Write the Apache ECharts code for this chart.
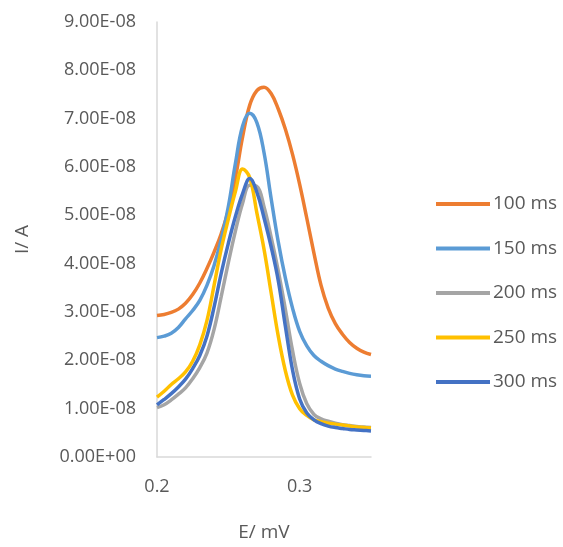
<!DOCTYPE html>
<html>
<head>
<meta charset="utf-8">
<script src="https://cdn.jsdelivr.net/npm/echarts@6/dist/echarts.min.js"></script>
<style>html,body{margin:0;padding:0;background:#fff}#c{width:563px;height:547px}</style>
</head>
<body>
<div id="c"></div>
<script>
var seriesNames = ['100 ms', '150 ms', '200 ms', '250 ms', '300 ms'];
var seriesColors = ['#ED7D31', '#5B9BD5', '#A5A5A5', '#FFC000', '#4472C4'];
var xTicks = ['0.2', '0.3'];
var yTicks = ['0.00E+00','1.00E-08','2.00E-08','3.00E-08','4.00E-08','5.00E-08','6.00E-08','7.00E-08','8.00E-08','9.00E-08'];

// E (mV) sample positions
var E = [0.200,0.205,0.210,0.215,0.220,0.225,0.230,0.235,0.240,0.245,0.250,0.255,0.260,0.265,0.270,0.275,
         0.280,0.285,0.290,0.295,0.300,0.305,0.310,0.315,0.320,0.325,0.330,0.335,0.340,0.345,0.350];
// I in units of 1e-8 A
var i100 = [2.93,2.95,2.99,3.06,3.18,3.36,3.60,3.90,4.24,4.62,5.10,5.78,6.62,7.28,7.58,7.65,
            7.52,7.20,6.78,6.26,5.64,4.94,4.22,3.55,3.08,2.76,2.54,2.37,2.25,2.17,2.12];
var i150 = [2.47,2.50,2.56,2.68,2.86,3.03,3.24,3.55,3.96,4.50,5.18,6.08,6.85,7.11,6.92,6.30,
            5.35,4.45,3.70,3.08,2.60,2.30,2.10,1.98,1.89,1.82,1.77,1.73,1.70,1.68,1.67];
var i200 = [1.02,1.08,1.18,1.30,1.43,1.62,1.85,2.15,2.64,3.32,4.02,4.68,5.25,5.62,5.60,5.18,
            4.55,3.85,3.05,2.20,1.52,1.10,0.88,0.79,0.74,0.70,0.67,0.65,0.63,0.62,0.61];
var i250 = [1.24,1.36,1.50,1.62,1.76,1.98,2.32,2.82,3.55,4.30,4.92,5.50,5.96,5.78,5.05,4.30,
            3.40,2.50,1.78,1.28,1.00,0.86,0.77,0.73,0.70,0.68,0.66,0.64,0.62,0.61,0.60];
var i300 = [1.08,1.19,1.31,1.45,1.61,1.83,2.10,2.50,3.10,3.80,4.42,4.98,5.45,5.76,5.48,4.95,
            4.35,3.65,2.70,1.80,1.20,0.91,0.77,0.69,0.64,0.61,0.59,0.57,0.56,0.55,0.54];

var curves = [i100, i150, i200, i250, i300];

function pairs(xa, ya) {
  var out = [];
  for (var i = 0; i < xa.length; i++) out.push([xa[i], ya[i] * 1e-8]);
  return out;
}

var font = '"Open Sans", "Noto Sans", sans-serif';
var txt = '#595959';

var series = seriesNames.map(function (n, i) {
  return {
    name: n, type: 'line', data: pairs(E, curves[i]), smooth: 0.4,
    showSymbol: false, symbol: 'none',
    lineStyle: { color: seriesColors[i], width: 3.5 },
    itemStyle: { color: seriesColors[i] }
  };
});

var chart = echarts.init(document.getElementById('c'), null, { renderer: 'canvas' });
chart.setOption({
  animation: false,
  backgroundColor: '#fff',
  grid: { left: 157, right: 192, top: 22, bottom: 82, containLabel: false },
  legend: {
    orient: 'vertical', left: 431, top: 189,
    itemWidth: 54, itemHeight: 4, itemGap: 24.5,
    icon: 'rect',
    data: seriesNames,
    textStyle: { color: txt, fontFamily: font, fontSize: 19, lineHeight: 20, padding: [0, 0, 0, -2] }
  },
  xAxis: {
    type: 'value', min: 0.2, max: 0.35, interval: 0.1,
    name: 'E/ mV', nameLocation: 'middle', nameGap: 66,
    nameTextStyle: { color: txt, fontFamily: font, fontSize: 19 },
    axisLine: { show: true, lineStyle: { color: '#D9D9D9', width: 1.5 } },
    axisTick: { show: false },
    splitLine: { show: false },
    axisLabel: {
      color: txt, fontFamily: font, fontSize: 18, margin: 21,
      showMaxLabel: false,
      formatter: function (v) { var i = Math.round((v - 0.2) / 0.1); return xTicks[i] || ''; }
    }
  },
  yAxis: {
    type: 'value', min: 0, max: 9e-8, interval: 1e-8,
    name: 'I/ A', nameLocation: 'middle', nameGap: 125, nameRotate: 90,
    nameTextStyle: { color: txt, fontFamily: font, fontSize: 19 },
    axisLine: { show: true, lineStyle: { color: '#D9D9D9', width: 1.5 } },
    axisTick: { show: false },
    splitLine: { show: false },
    axisLabel: {
      color: txt, fontFamily: font, fontSize: 18, margin: 21,
      formatter: function (v) { var i = Math.round(v / 1e-8); return yTicks[i] || ''; }
    }
  },
  series: series
});
</script>
</body>
</html>
